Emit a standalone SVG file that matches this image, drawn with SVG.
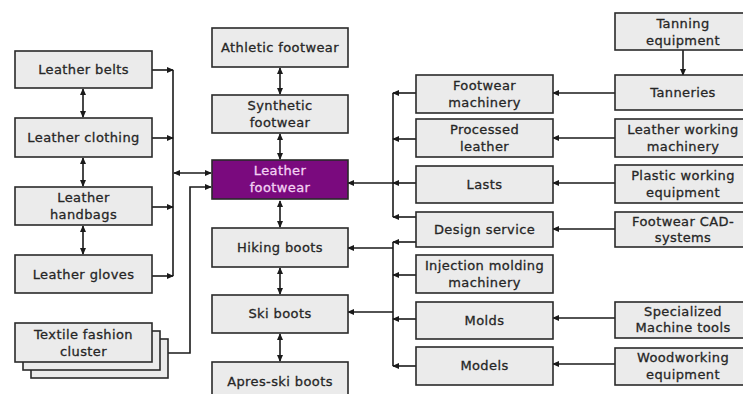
<svg xmlns="http://www.w3.org/2000/svg" width="743" height="394" viewBox="0 0 743 394">
<style>
.b{fill:#ebebeb;stroke:#2a2a2a;stroke-width:1.6}
.p{fill:#7a0a7e;stroke:#2a2a2a;stroke-width:1.6}
text{font-family:"DejaVu Sans",sans-serif;font-size:13px;fill:#262626;stroke:#262626;stroke-width:0.3;text-anchor:middle;letter-spacing:0.4px}
.w{fill:#f3d2f3;stroke:#f3d2f3}
.c path,.c line{fill:none;stroke:#1a1a1a;stroke-width:1.6}
</style>
<defs>
<marker id="a" viewBox="0 0 8 8" refX="7" refY="4" markerWidth="7" markerHeight="7" markerUnits="userSpaceOnUse" orient="auto-start-reverse">
<path d="M0,0.5 L8,4 L0,7.5 z" fill="#1a1a1a"/>
</marker>
</defs>
<rect width="743" height="394" fill="#ffffff"/>

<g class="c" id="connectors">
<line x1="83" y1="89" x2="83" y2="117" marker-start="url(#a)" marker-end="url(#a)"/>
<line x1="83" y1="158" x2="83" y2="186" marker-start="url(#a)" marker-end="url(#a)"/>
<line x1="83" y1="226" x2="83" y2="254" marker-start="url(#a)" marker-end="url(#a)"/>
<line x1="173" y1="70" x2="173" y2="276"/>
<line x1="152" y1="70" x2="173" y2="70" marker-end="url(#a)"/>
<line x1="152" y1="138" x2="173" y2="138" marker-end="url(#a)"/>
<line x1="152" y1="207" x2="173" y2="207" marker-end="url(#a)"/>
<line x1="152" y1="276" x2="173" y2="276" marker-end="url(#a)"/>
<line x1="174" y1="173" x2="211" y2="173" marker-start="url(#a)" marker-end="url(#a)"/>
<path d="M168,353 H190 V187 H211" marker-end="url(#a)"/>
<line x1="280" y1="68" x2="280" y2="94" marker-start="url(#a)" marker-end="url(#a)"/>
<line x1="280" y1="134" x2="280" y2="159" marker-start="url(#a)" marker-end="url(#a)"/>
<line x1="280" y1="201" x2="280" y2="227" marker-start="url(#a)" marker-end="url(#a)"/>
<line x1="280" y1="268" x2="280" y2="294" marker-start="url(#a)" marker-end="url(#a)"/>
<line x1="280" y1="334" x2="280" y2="361" marker-start="url(#a)" marker-end="url(#a)"/>
<line x1="393" y1="93" x2="393" y2="217"/>
<line x1="416" y1="93" x2="393" y2="93" marker-end="url(#a)"/>
<line x1="416" y1="139" x2="393" y2="139" marker-end="url(#a)"/>
<line x1="416" y1="183" x2="393" y2="183" marker-end="url(#a)"/>
<line x1="416" y1="217" x2="393" y2="217" marker-end="url(#a)"/>
<line x1="393" y1="183" x2="348" y2="183" marker-end="url(#a)"/>
<line x1="393" y1="242" x2="393" y2="366"/>
<line x1="416" y1="242" x2="393" y2="242" marker-end="url(#a)"/>
<line x1="416" y1="275" x2="393" y2="275" marker-end="url(#a)"/>
<line x1="416" y1="319" x2="393" y2="319" marker-end="url(#a)"/>
<line x1="416" y1="366" x2="393" y2="366" marker-end="url(#a)"/>
<line x1="393" y1="248" x2="348" y2="248" marker-end="url(#a)"/>
<line x1="393" y1="312" x2="348" y2="312" marker-end="url(#a)"/>
<line x1="683" y1="50" x2="683" y2="75" marker-end="url(#a)"/>
<line x1="615" y1="93" x2="553" y2="93" marker-end="url(#a)"/>
<line x1="615" y1="138" x2="553" y2="138" marker-end="url(#a)"/>
<line x1="615" y1="183" x2="553" y2="183" marker-end="url(#a)"/>
<line x1="615" y1="229" x2="553" y2="229" marker-end="url(#a)"/>
<line x1="615" y1="318" x2="553" y2="318" marker-end="url(#a)"/>
<line x1="615" y1="364" x2="553" y2="364" marker-end="url(#a)"/>
</g>

<g id="leather-belts"><rect class="b" x="15" y="51" width="137" height="37"/><text x="83.5" y="74">Leather belts</text></g>
<g id="leather-clothing"><rect class="b" x="15" y="118" width="137" height="39"/><text x="83.5" y="142">Leather clothing</text></g>
<g id="leather-handbags"><rect class="b" x="15" y="187" width="137" height="38"/><text x="83.5" y="202">Leather</text><text x="83.5" y="219">handbags</text></g>
<g id="leather-gloves"><rect class="b" x="15" y="255" width="137" height="38"/><text x="83.5" y="279">Leather gloves</text></g>
<g id="textile-fashion-cluster">
<rect class="b" x="31" y="339" width="137" height="39"/>
<rect class="b" x="23" y="331" width="137" height="39"/>
<rect class="b" x="15" y="323" width="137" height="39"/>
<text x="83.5" y="339">Textile fashion</text><text x="83.5" y="356">cluster</text></g>

<g id="athletic-footwear"><rect class="b" x="212" y="28" width="136" height="39"/><text x="280" y="52">Athletic footwear</text></g>
<g id="synthetic-footwear"><rect class="b" x="212" y="95" width="136" height="38"/><text x="280" y="110">Synthetic</text><text x="280" y="127">footwear</text></g>
<g id="leather-footwear"><rect class="p" x="212" y="160" width="136" height="39"/><text class="w" x="280" y="175">Leather</text><text class="w" x="280" y="192">footwear</text></g>
<g id="hiking-boots"><rect class="b" x="212" y="228" width="136" height="39"/><text x="280" y="252">Hiking boots</text></g>
<g id="ski-boots"><rect class="b" x="212" y="295" width="136" height="38"/><text x="280" y="318">Ski boots</text></g>
<g id="apres-ski-boots"><rect class="b" x="212" y="362" width="136" height="38"/><text x="280" y="386">Apres-ski boots</text></g>

<g id="footwear-machinery"><rect class="b" x="416" y="75" width="137" height="38"/><text x="484.5" y="90">Footwear</text><text x="484.5" y="107">machinery</text></g>
<g id="processed-leather"><rect class="b" x="416" y="119" width="137" height="38"/><text x="484.5" y="134">Processed</text><text x="484.5" y="151">leather</text></g>
<g id="lasts"><rect class="b" x="416" y="166" width="137" height="37"/><text x="484.5" y="189">Lasts</text></g>
<g id="design-service"><rect class="b" x="416" y="212" width="137" height="35"/><text x="484.5" y="234">Design service</text></g>
<g id="injection-molding-machinery"><rect class="b" x="416" y="255" width="137" height="38"/><text x="484.5" y="270">Injection molding</text><text x="484.5" y="287">machinery</text></g>
<g id="molds"><rect class="b" x="416" y="302" width="137" height="37"/><text x="484.5" y="325">Molds</text></g>
<g id="models"><rect class="b" x="416" y="347" width="137" height="38"/><text x="484.5" y="370">Models</text></g>

<g id="tanning-equipment"><rect class="b" x="615" y="13" width="138" height="37"/><text x="683" y="28">Tanning</text><text x="683" y="45">equipment</text></g>
<g id="tanneries"><rect class="b" x="615" y="75" width="138" height="35"/><text x="683" y="97">Tanneries</text></g>
<g id="leather-working-machinery"><rect class="b" x="615" y="119" width="138" height="38"/><text x="683" y="134">Leather working</text><text x="683" y="151">machinery</text></g>
<g id="plastic-working-equipment"><rect class="b" x="615" y="165" width="138" height="38"/><text x="683" y="180">Plastic working</text><text x="683" y="197">equipment</text></g>
<g id="footwear-cad-systems"><rect class="b" x="615" y="212" width="138" height="35"/><text x="683" y="226">Footwear CAD-</text><text x="683" y="242">systems</text></g>
<g id="specialized-machine-tools"><rect class="b" x="615" y="302" width="138" height="36"/><text x="683" y="316">Specialized</text><text x="683" y="332">Machine tools</text></g>
<g id="woodworking-equipment"><rect class="b" x="615" y="348" width="138" height="37"/><text x="683" y="362">Woodworking</text><text x="683" y="379">equipment</text></g>
</svg>
